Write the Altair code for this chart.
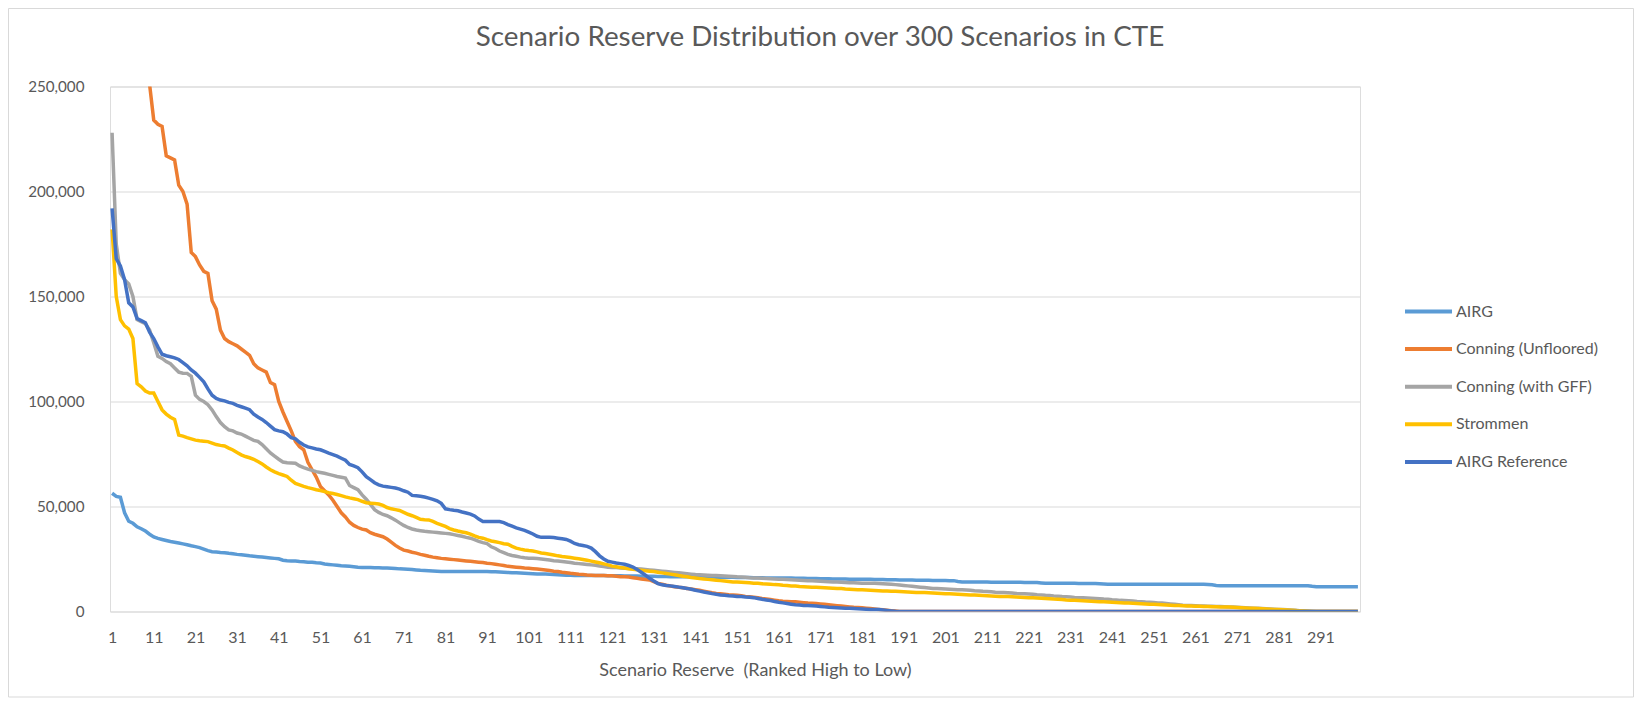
import altair as alt
import pandas as pd

# ---- data (values in thousands) ----
ranks = list(range(1, 301))

airg = [
    56.3, 54.8, 54.4, 47.0, 43.0, 42.0, 40.3, 39.4, 38.3, 36.8,
    35.5, 34.8, 34.3, 33.8, 33.3, 33.0, 32.6, 32.2, 31.8, 31.3,
    30.9, 30.4, 29.7, 29.0, 28.5, 28.3, 28.1, 28.0, 27.7, 27.5,
    27.2, 27.0, 26.8, 26.5, 26.3, 26.1, 25.9, 25.7, 25.5, 25.3,
    25.1, 24.4, 24.2, 24.1, 24.0, 23.8, 23.7, 23.5, 23.4, 23.2,
    23.1, 22.6, 22.4, 22.2, 22.0, 21.8, 21.7, 21.5, 21.3, 21.1,
    21.0, 20.9, 20.9, 20.8, 20.8, 20.7, 20.7, 20.6, 20.5, 20.3,
    20.2, 20.1, 20.0, 19.8, 19.6, 19.5, 19.4, 19.3, 19.2, 19.1,
    19.1, 19.0, 19.0, 19.0, 19.0, 19.0, 19.0, 19.0, 19.0, 19.0,
    19.0, 18.9, 18.9, 18.8, 18.7, 18.6, 18.5, 18.4, 18.3, 18.2,
    18.1, 18.0, 17.9, 17.9, 17.8, 17.7, 17.6, 17.5, 17.4, 17.3,
    17.3, 17.2, 17.2, 17.2, 17.2, 17.1, 17.1, 17.1, 17.1, 17.0,
    17.0, 17.0, 17.0, 16.9, 16.9, 16.9, 16.9, 16.8, 16.8, 16.8,
    16.8, 16.7, 16.7, 16.7, 16.6, 16.6, 16.6, 16.5, 16.5, 16.5,
    16.5, 16.4, 16.4, 16.4, 16.4, 16.3, 16.3, 16.3, 16.3, 16.3,
    16.2, 16.2, 16.2, 16.2, 16.1, 16.1, 16.1, 16.0, 16.0, 16.0,
    16.0, 15.9, 15.9, 15.9, 15.8, 15.8, 15.8, 15.7, 15.7, 15.7,
    15.6, 15.6, 15.6, 15.5, 15.5, 15.5, 15.5, 15.4, 15.4, 15.4,
    15.3, 15.3, 15.3, 15.2, 15.2, 15.2, 15.1, 15.1, 15.1, 15.0,
    15.0, 15.0, 15.0, 14.9, 14.9, 14.9, 14.9, 14.8, 14.8, 14.8,
    14.8, 14.7, 14.7, 14.3, 14.1, 14.0, 14.0, 14.0, 14.0, 14.0,
    14.0, 13.9, 13.9, 13.9, 13.9, 13.9, 13.9, 13.9, 13.9, 13.8,
    13.8, 13.8, 13.8, 13.6, 13.4, 13.4, 13.4, 13.4, 13.4, 13.4,
    13.4, 13.4, 13.3, 13.3, 13.3, 13.3, 13.3, 13.2, 13.1, 13.0,
    13.0, 13.0, 13.0, 13.0, 13.0, 13.0, 13.0, 13.0, 13.0, 13.0,
    13.0, 13.0, 13.0, 13.0, 13.0, 13.0, 13.0, 13.0, 13.0, 13.0,
    13.0, 13.0, 13.0, 12.9, 12.7, 12.4, 12.3, 12.3, 12.3, 12.3,
    12.3, 12.3, 12.3, 12.3, 12.3, 12.3, 12.3, 12.3, 12.3, 12.3,
    12.3, 12.3, 12.3, 12.3, 12.3, 12.3, 12.3, 12.3, 12.0, 11.8,
    11.8, 11.8, 11.8, 11.8, 11.8, 11.8, 11.8, 11.8, 11.8, 11.8,
]

conning_unfloored = [
    420, 375, 345, 320, 302, 290, 280, 270, 262, 251,
    234, 232, 231, 217, 216, 215, 203, 200, 194, 171,
    169, 165, 162, 161, 148, 144, 134, 130, 128.5, 127.5,
    126.5, 125, 123.5, 122, 118, 116, 115, 114, 109, 108,
    100, 95, 90.5, 86, 81, 78.5, 77, 71, 67.5, 64,
    59.5, 57.5, 55.5, 53, 50, 47, 45, 42.5, 41, 40,
    39.2, 38.8, 37.5, 36.8, 36.2, 35.6, 34.5, 33.0, 31.5, 30.2,
    29.2, 28.8, 28.2, 27.8, 27.2, 26.8, 26.3, 25.9, 25.6, 25.3,
    25.1, 24.9, 24.7, 24.5, 24.3, 24.1, 23.9, 23.7, 23.5, 23.3,
    23.0, 22.8, 22.5, 22.2, 21.9, 21.5, 21.3, 21.1, 20.9, 20.7,
    20.6, 20.4, 20.2, 20.0, 19.8, 19.5, 19.2, 19.0, 18.7, 18.5,
    18.2, 18.0, 17.7, 17.6, 17.4, 17.3, 17.2, 17.2, 17.1, 17.0,
    17.0, 16.8, 16.6, 16.5, 16.4, 16.1, 15.8, 15.5, 15.2, 15.0,
    14.2, 13.4, 13.0, 12.5, 12.1, 11.8, 11.5, 11.3, 11.0, 10.7,
    10.4, 10.1, 9.7, 9.3, 8.9, 8.6, 8.4, 8.2, 8.0, 7.9,
    7.7, 7.5, 7.2, 7.0, 6.8, 6.5, 6.2, 6.0, 5.7, 5.4,
    5.1, 4.9, 4.8, 4.7, 4.6, 4.4, 4.2, 4.0, 3.9, 3.8,
    3.6, 3.4, 3.2, 3.0, 2.8, 2.6, 2.4, 2.2, 2.0, 1.9,
    1.8, 1.6, 1.4, 1.2, 1.0, 0.8, 0.6, 0.4, 0.2, 0.0,
    0, 0, 0, 0, 0, 0, 0, 0, 0, 0,
    0, 0, 0, 0, 0, 0, 0, 0, 0, 0,
    0, 0, 0, 0, 0, 0, 0, 0, 0, 0,
    0, 0, 0, 0, 0, 0, 0, 0, 0, 0,
    0, 0, 0, 0, 0, 0, 0, 0, 0, 0,
    0, 0, 0, 0, 0, 0, 0, 0, 0, 0,
    0, 0, 0, 0, 0, 0, 0, 0, 0, 0,
    0, 0, 0, 0, 0, 0, 0, 0, 0, 0,
    0, 0, 0, 0, 0, 0, 0, 0, 0, 0,
    0, 0, 0, 0, 0, 0, 0, 0, 0, 0,
    0, 0, 0, 0, 0, 0, 0, 0, 0, 0,
]

conning_gff = [
    228, 175, 161, 158, 156, 150, 139, 138, 137, 134,
    128, 121.5, 120.5, 119, 118, 116, 114, 113.5, 113.4, 112,
    103, 101, 100, 98.5, 96, 92.8, 90, 88, 86.5, 86,
    85, 84.5, 83.5, 82.5, 81.5, 81, 79.5, 77.5, 75.5, 74,
    72.5, 71.2, 70.8, 70.7, 70.6, 69.3, 68.5, 67.8, 67.2, 66.6,
    66.2, 65.8, 65.3, 64.8, 64.3, 63.9, 63.5, 60.0, 59.0, 58.0,
    55.5, 53.5, 51.0, 48.5, 47.2, 46.2, 45.6, 44.6, 43.5, 42.2,
    41.0, 40.0, 39.3, 38.8, 38.5, 38.2, 38.0, 37.8, 37.6, 37.4,
    37.2, 37.0, 36.6, 36.2, 35.8, 35.3, 34.9, 34.2, 33.4, 32.8,
    32.3, 30.8, 30.0, 28.8, 28.0, 27.2, 26.7, 26.3, 25.9, 25.6,
    25.4, 25.3, 25.2, 25.0, 24.8, 24.5, 24.2, 24.0, 23.8, 23.6,
    23.3, 23.0, 22.8, 22.6, 22.4, 22.2, 22.0, 21.7, 21.4, 21.1,
    21.0, 20.9, 20.7, 20.6, 20.5, 20.4, 20.3, 20.2, 20.0, 19.8,
    19.6, 19.4, 19.2, 19.0, 18.8, 18.6, 18.4, 18.2, 18.0, 17.8,
    17.6, 17.5, 17.4, 17.3, 17.2, 17.1, 17.0, 16.9, 16.8, 16.7,
    16.5, 16.4, 16.3, 16.1, 16.0, 15.9, 15.8, 15.7, 15.6, 15.5,
    15.4, 15.3, 15.2, 15.1, 15.0, 14.9, 14.8, 14.7, 14.6, 14.5,
    14.4, 14.3, 14.2, 14.1, 14.0, 13.9, 13.8, 13.7, 13.7, 13.6,
    13.5, 13.5, 13.4, 13.4, 13.3, 13.2, 13.1, 13.0, 12.8, 12.6,
    12.4, 12.2, 12.0, 11.8, 11.6, 11.4, 11.2, 11.0, 10.9, 10.8,
    10.7, 10.6, 10.5, 10.4, 10.3, 10.2, 10.1, 9.9, 9.8, 9.6,
    9.5, 9.4, 9.2, 9.1, 9.0, 8.9, 8.8, 8.6, 8.5, 8.4,
    8.3, 8.2, 8.0, 7.9, 7.7, 7.6, 7.4, 7.3, 7.1, 7.0,
    6.9, 6.7, 6.6, 6.5, 6.4, 6.3, 6.2, 6.1, 5.9, 5.8,
    5.6, 5.5, 5.3, 5.2, 5.1, 5.0, 4.8, 4.7, 4.5, 4.4,
    4.3, 4.1, 4.0, 3.8, 3.6, 3.4, 3.2, 3.0, 2.9, 2.8,
    2.7, 2.6, 2.6, 2.5, 2.5, 2.4, 2.4, 2.3, 2.2, 2.1,
    2.0, 1.9, 1.8, 1.7, 1.6, 1.5, 1.4, 1.3, 1.2, 1.1,
    1.0, 0.9, 0.8, 0.7, 0.6, 0.4, 0.3, 0.2, 0.1, 0.0,
    0, 0, 0, 0, 0, 0, 0, 0, 0, 0,
]

strommen = [
    182, 150, 139, 136, 134.5, 130, 108.5, 107, 105, 104,
    104, 100, 96, 94, 92.5, 91.5, 84, 83.5, 82.8, 82.2,
    81.6, 81.3, 81.1, 80.9, 80.2, 79.5, 79.1, 78.8, 77.8, 76.9,
    75.7, 74.6, 73.8, 73.2, 72.5, 71.4, 70.3, 68.8, 67.5, 66.5,
    65.7, 65.0, 64.3, 62.5, 61.0, 60.3, 59.6, 59.0, 58.5, 58.0,
    57.6, 57.1, 56.6, 56.2, 55.7, 55.2, 54.6, 54.1, 53.7, 53.3,
    52.5, 51.8, 51.6, 51.4, 51.2, 50.5, 49.5, 48.9, 48.5, 48.1,
    47.2, 46.3, 45.6, 44.8, 43.9, 43.7, 43.6, 42.9, 42.0, 41.3,
    40.5, 39.5, 38.8, 38.3, 37.9, 37.5, 36.8, 36.0, 35.3, 34.9,
    34.2, 33.6, 33.2, 32.8, 32.3, 32.0, 31.0, 30.2, 29.7, 29.3,
    29.0, 28.8, 28.4, 27.9, 27.6, 27.3, 26.9, 26.5, 26.2, 26.0,
    25.7, 25.4, 25.1, 24.8, 24.4, 24.0, 23.6, 23.2, 22.7, 22.2,
    21.6, 21.3, 21.0, 20.7, 20.4, 20.1, 19.9, 19.7, 19.4, 19.2,
    19.0, 18.7, 18.4, 18.1, 17.8, 17.5, 17.1, 16.8, 16.5, 16.2,
    16.0, 15.7, 15.5, 15.3, 15.1, 14.9, 14.7, 14.5, 14.3, 14.1,
    14.0, 13.9, 13.8, 13.7, 13.5, 13.4, 13.2, 13.1, 13.0, 12.8,
    12.7, 12.5, 12.4, 12.2, 12.1, 11.9, 11.8, 11.7, 11.6, 11.5,
    11.4, 11.3, 11.2, 11.1, 11.0, 10.9, 10.7, 10.6, 10.5, 10.4,
    10.3, 10.2, 10.1, 10.0, 9.9, 9.8, 9.8, 9.7, 9.6, 9.5,
    9.4, 9.3, 9.2, 9.1, 9.0, 9.0, 8.9, 8.8, 8.7, 8.6,
    8.5, 8.4, 8.3, 8.2, 8.1, 8.0, 7.9, 7.8, 7.7, 7.6,
    7.5, 7.4, 7.3, 7.2, 7.2, 7.1, 7.0, 6.9, 6.8, 6.7,
    6.6, 6.5, 6.4, 6.3, 6.2, 6.1, 5.9, 5.8, 5.7, 5.5,
    5.4, 5.3, 5.2, 5.1, 5.0, 4.9, 4.8, 4.7, 4.6, 4.5,
    4.4, 4.3, 4.2, 4.1, 4.0, 3.9, 3.8, 3.7, 3.6, 3.5,
    3.4, 3.3, 3.2, 3.1, 3.0, 2.9, 2.8, 2.7, 2.6, 2.6,
    2.5, 2.5, 2.4, 2.4, 2.3, 2.3, 2.2, 2.2, 2.1, 2.0,
    1.9, 1.8, 1.7, 1.6, 1.5, 1.4, 1.3, 1.2, 1.1, 1.0,
    0.9, 0.8, 0.7, 0.6, 0.5, 0.3, 0.2, 0.1, 0.0, 0.0,
    0, 0, 0, 0, 0, 0, 0, 0, 0, 0,
]

airg_reference = [
    192, 168, 164.5, 158, 147, 145, 139.5, 138.5, 137.5, 133,
    130, 126, 122.5, 121.8, 121.3, 120.8, 120, 118.5, 117, 115,
    113.5, 111.5, 109.4, 106, 103, 101.5, 100.7, 100.3, 99.6, 99.1,
    98.2, 97.5, 96.8, 96.1, 94, 92.6, 91.5, 90, 88.3, 86.6,
    86, 85.6, 84.5, 82.8, 82.2, 80.6, 79.3, 78.4, 77.9, 77.4,
    77, 76.2, 75.4, 74.7, 74, 73, 72, 70, 69.3, 68.5,
    66.5, 64.2, 62.8, 61.3, 60.3, 59.7, 59.4, 59.1, 58.8, 58.3,
    57.5, 56.8, 55.3, 55.1, 54.9, 54.5, 54.0, 53.4, 52.7, 51.5,
    48.9, 48.5, 48.2, 48.0, 47.4, 46.9, 46.4, 45.5, 44.0, 42.9,
    42.8, 42.8, 42.8, 42.8, 42.3, 41.4, 40.6, 39.8, 39.2, 38.6,
    37.8, 36.9, 35.8, 35.3, 35.3, 35.3, 35.2, 34.9, 34.6, 34.3,
    33.5, 32.4, 31.8, 31.4, 31.0, 30.2, 28.5, 26.5, 25.0, 23.9,
    23.5, 23.1, 22.8, 22.5, 21.9, 21.2, 20.0, 18.7, 17.3, 15.8,
    14.5, 13.3, 12.7, 12.4, 12.2, 11.9, 11.6, 11.3, 11.0, 10.6,
    10.1, 9.7, 9.3, 8.9, 8.5, 8.2, 7.9, 7.7, 7.5, 7.4,
    7.2, 7.1, 6.9, 6.8, 6.6, 6.2, 5.8, 5.5, 5.2, 4.8,
    4.4, 4.1, 3.8, 3.5, 3.2, 3.1, 2.9, 2.8, 2.7, 2.6,
    2.4, 2.2, 2.0, 1.9, 1.8, 1.7, 1.6, 1.5, 1.4, 1.3,
    1.2, 1.1, 1.0, 1.0, 0.9, 0.7, 0.5, 0.3, 0.1, 0.0,
    0, 0, 0, 0, 0, 0, 0, 0, 0, 0,
    0, 0, 0, 0, 0, 0, 0, 0, 0, 0,
    0, 0, 0, 0, 0, 0, 0, 0, 0, 0,
    0, 0, 0, 0, 0, 0, 0, 0, 0, 0,
    0, 0, 0, 0, 0, 0, 0, 0, 0, 0,
    0, 0, 0, 0, 0, 0, 0, 0, 0, 0,
    0, 0, 0, 0, 0, 0, 0, 0, 0, 0,
    0, 0, 0, 0, 0, 0, 0, 0, 0, 0,
    0, 0, 0, 0, 0, 0, 0, 0, 0, 0,
    0, 0, 0, 0, 0, 0, 0, 0, 0, 0,
    0, 0, 0, 0, 0, 0, 0, 0, 0, 0,
]

series_names = ["AIRG", "Conning (Unfloored)", "Conning (with GFF)", "Strommen", "AIRG Reference"]
series_colors = ["#5B9BD5", "#ED7D31", "#A5A5A5", "#FFC000", "#4472C4"]
x_tick_labels = [1, 11, 21, 31, 41, 51, 61, 71, 81, 91, 101, 111, 121, 131, 141,
                 151, 161, 171, 181, 191, 201, 211, 221, 231, 241, 251, 261, 271, 281, 291]
y_tick_values = [0, 50000, 100000, 150000, 200000, 250000]

all_series = [airg, conning_unfloored, conning_gff, strommen, airg_reference]
for s in all_series:
    assert len(s) == 300, len(s)

rows = []
for order_idx, (name, vals) in enumerate(zip(series_names, all_series)):
    for r, v in zip(ranks, vals):
        rows.append({"Rank": r, "Series": name, "Reserve": v * 1000, "k": order_idx})
df = pd.DataFrame(rows)

FONT = "Lato"
GREY_TXT = "#595959"
W, H = 1250, 525
PAD = {"left": 102, "top": 78.5, "right": 274, "bottom": 86}

lines = alt.Chart(df).mark_line(strokeWidth=3.5, clip=True).encode(
    x=alt.X(
        "Rank:Q",
        scale=alt.Scale(domain=[0.5, 300.5], nice=False, zero=False),
        axis=alt.Axis(
            values=x_tick_labels, format="d", grid=False, ticks=False, domain=False,
            labelFont=FONT, labelFontSize=16, labelColor=GREY_TXT, labelPadding=18,
            title="Scenario Reserve\u00a0 (Ranked High to Low)",
            titleFont=FONT, titleFontSize=18, titleFontWeight="normal", titleColor=GREY_TXT,
            titleX=645, titleY=50, titleAnchor="middle", titleAlign="center",
            labelOverlap=False,
        ),
    ),
    y=alt.Y(
        "Reserve:Q",
        scale=alt.Scale(domain=[0, 250000], nice=False),
        axis=alt.Axis(
            values=y_tick_values, format=",.0f", grid=True, gridColor="#D9D9D9", gridWidth=1.2,
            ticks=False, domain=False, title=None,
            labelFont=FONT, labelFontSize=15.2, labelColor=GREY_TXT, labelPadding=26,
        ),
    ),
    color=alt.Color(
        "Series:N",
        scale=alt.Scale(domain=series_names, range=series_colors),
        legend=alt.Legend(
            title=None, orient="none", legendX=1293, legendY=214,
            symbolType="stroke", symbolSize=2209, symbolStrokeWidth=4,
            labelFont=FONT, labelFontSize=16, labelColor=GREY_TXT, labelOffset=2,
            clipHeight=22, rowPadding=15.6, padding=0,
        ),
    ),
    order=alt.Order("Rank:Q"),
)

border = alt.Chart(alt.Data(values=[{"a": 1}])).mark_rect(
    fill=None, stroke="#D9D9D9", strokeWidth=1, clip=False
).encode(
    x=alt.value(-101.5), x2=alt.value(W + 273.5),
    y=alt.value(-78), y2=alt.value(H + 85.5),
)

chart = alt.layer(border, lines).properties(
    width=W, height=H,
    padding=PAD,
    autosize=alt.AutoSizeParams(type="none"),
    title=alt.TitleParams(
        "Scenario Reserve Distribution over 300 Scenarios in CTE",
        font=FONT, fontSize=27.8, fontWeight="normal", color=GREY_TXT,
        anchor="middle", frame="group", dx=85, offset=-44,
    ),
).configure_view(stroke=None).configure(background="white")

chart.save("out.html", embed_options={"renderer": "svg", "actions": False})
